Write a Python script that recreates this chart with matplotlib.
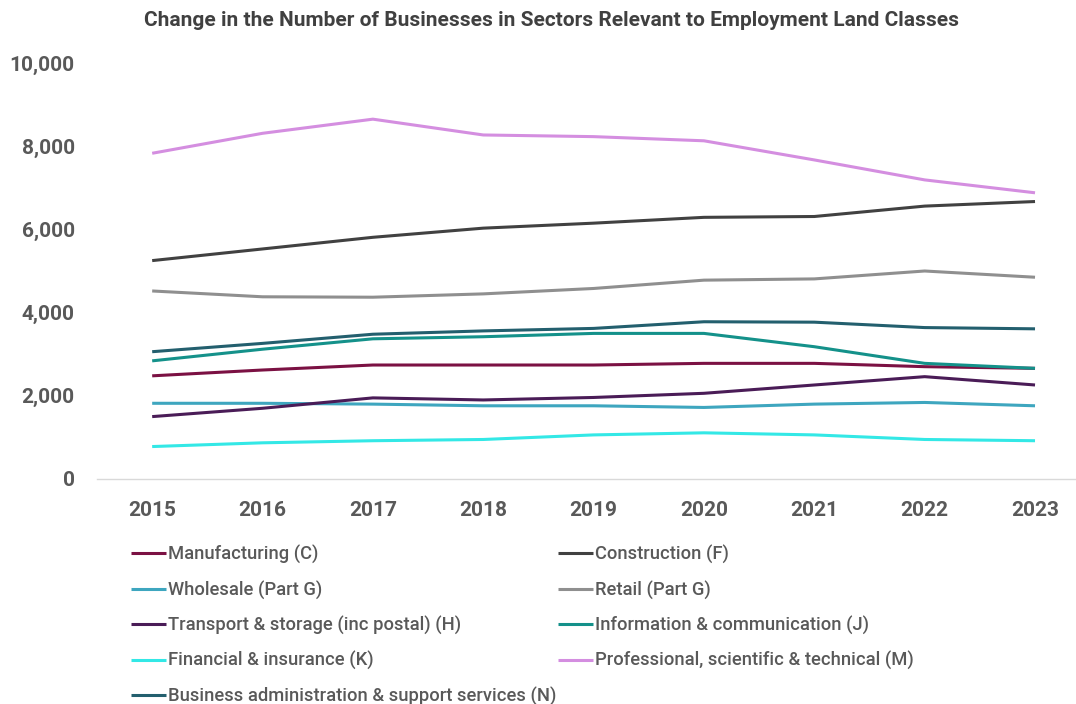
import matplotlib
matplotlib.use("Agg")
import matplotlib.pyplot as plt
from matplotlib.ticker import FuncFormatter

years = [2015, 2016, 2017, 2018, 2019, 2020, 2021, 2022, 2023]

manufacturing = [2480, 2620, 2740, 2740, 2740, 2780, 2780, 2700, 2660]
construction = [5250, 5530, 5810, 6030, 6150, 6290, 6310, 6560, 6670]
wholesale = [1820, 1820, 1800, 1760, 1760, 1720, 1800, 1840, 1760]
retail = [4520, 4380, 4370, 4450, 4580, 4780, 4810, 5000, 4850]
transport = [1500, 1700, 1950, 1900, 1960, 2060, 2260, 2460, 2260]
information = [2840, 3120, 3370, 3420, 3500, 3500, 3180, 2780, 2660]
financial = [780, 870, 920, 950, 1060, 1110, 1060, 950, 920]
professional = [7830, 8310, 8650, 8270, 8230, 8130, 7670, 7190, 6880]
business_admin = [3060, 3260, 3480, 3560, 3620, 3780, 3770, 3640, 3610]

series = [
    ("Manufacturing (C)", manufacturing, "#7b1143"),
    ("Construction (F)", construction, "#414141"),
    ("Wholesale (Part G)", wholesale, "#3ea6bf"),
    ("Retail (Part G)", retail, "#8f8f8f"),
    ("Transport & storage (inc postal) (H)", transport, "#4a1c57"),
    ("Information & communication (J)", information, "#14918a"),
    ("Financial & insurance (K)", financial, "#33e8e6"),
    ("Professional, scientific & technical (M)", professional, "#d48ee0"),
    ("Business administration & support services (N)", business_admin, "#235f6e"),
]

title = "Change in the Number of Businesses in Sectors Relevant to Employment Land Classes"
text_color = "#595959"

plt.rcParams["font.family"] = ["Roboto", "DejaVu Sans"]

fig = plt.figure(figsize=(10.76, 7.04), dpi=100)
ax = fig.add_axes([97 / 1076, 1 - 479 / 704, 1 - 97 / 1076, (479 - 63) / 704])

x = list(range(len(years)))
handles = {}
for label, values, color in series:
    (ln,) = ax.plot(x, values, color=color, linewidth=2.2, label=label,
                    solid_capstyle="butt")
    handles[label] = ln

ax.set_xlim(-0.5, 8 + 41 / 110.4)
ax.set_ylim(0, 10000)
ax.set_yticks(range(0, 10001, 2000))
ax.yaxis.set_major_formatter(FuncFormatter(lambda v, p: f"{int(v):,}"))
ax.set_xticks(x)
ax.set_xticklabels([str(y) for y in years])

for side in ("top", "right", "left"):
    ax.spines[side].set_visible(False)
ax.spines["bottom"].set_color("#d9d9d9")
ax.spines["bottom"].set_linewidth(1.0)
ax.tick_params(axis="both", length=0, colors=text_color, labelsize=15)
ax.tick_params(axis="x", pad=16)
ax.tick_params(axis="y", pad=16)
for lbl in ax.get_xticklabels() + ax.get_yticklabels():
    lbl.set_fontweight("bold")

fig.text(552 / 1076, 1 - 21 / 704, title, ha="center", va="center",
         fontsize=15, fontweight="bold", color="#404040")

# Legend laid out row by row: matplotlib fills columns first, so reorder.
col1 = ["Manufacturing (C)", "Wholesale (Part G)", "Transport & storage (inc postal) (H)",
        "Financial & insurance (K)", "Business administration & support services (N)"]
col2 = ["Construction (F)", "Retail (Part G)", "Information & communication (J)",
        "Professional, scientific & technical (M)"]
order = col1 + col2
leg = fig.legend([handles[k] for k in order], order, ncol=2,
                 loc="upper left", bbox_to_anchor=(131 / 1076, 1 - 545 / 704),
                 frameon=False, fontsize=13.2, handlelength=1.9, handletextpad=0.1,
                 labelspacing=0.9, columnspacing=0.1, borderpad=0, borderaxespad=0)
for t in leg.get_texts():
    t.set_color(text_color)
    t.set_fontweight("medium")

fig.savefig("out.png", dpi=100, facecolor="white")
